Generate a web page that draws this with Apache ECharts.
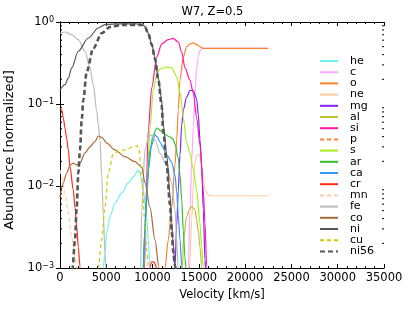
<!DOCTYPE html>
<html><head><meta charset="utf-8">
<script src="https://cdn.jsdelivr.net/npm/echarts@6/dist/echarts.min.js"></script>
<style>html,body{margin:0;padding:0;background:#fff}#c{width:415px;height:312px}</style>
</head><body><div id="c"></div>
<script>
const FONT = 'DejaVu Sans';
const names = ['he','c','o','ne','mg','al','si','p','s','ar','ca','cr','mn','fe','co','ni','cu','ni56'];
const xTicks = [0,5000,10000,15000,20000,25000,30000,35000];
const yTicks = [0.001,0.01,0.1,1];
const minorMult = [2,3,4,5,6,7,8,9];

const he = [[4590,5e-4],[4677,0.00104],[4860,0.0015],[5044,0.0027],[5400,0.0042],[5941,0.0062],[6665,0.0082],[7378,0.0109],[7918,0.013],[8458,0.0157],[8642,0.0144],[8998,0.0089],[9366,0.0042],[9538,0.0022],[9722,0.00104],[9830,3e-4]];
const c = [[13772,4e-4],[13859,0.001],[14043,0.0051],[14227,0.0207],[14400,0.0525],[14583,0.136],[14766,0.275],[14939,0.385],[15122,0.45],[15446,0.478],[22500,0.478]];
const o = [[11250,3e-4],[11342,0.001],[11698,0.0022],[12066,0.0055],[12422,0.018],[12607,0.0364],[12778,0.0845],[12962,0.196],[13319,0.374],[13686,0.50],[14043,0.54],[14400,0.555],[14766,0.53],[15122,0.50],[15446,0.478],[22500,0.478]];
const ne = [[13880,3e-4],[13990,0.001],[14227,0.0038],[14400,0.0103],[14583,0.0196],[14766,0.0232],[14939,0.0246],[15122,0.0226],[15307,0.017],[15479,0.0118],[15663,0.0089],[16020,0.0078],[16420,0.0076],[22500,0.0076]];
const mg = [[12314,2e-4],[12422,0.00105],[12607,0.0033],[12778,0.0089],[12962,0.0239],[13146,0.0555],[13319,0.0845],[13686,0.122],[14043,0.146],[14400,0.146],[14766,0.115],[14939,0.073],[15122,0.0364],[15307,0.018],[15479,0.0051],[15663,0.00125],[15717,0.001],[15830,3e-4]];
const al = [[13130,3e-4],[13240,0.001],[13319,0.0022],[13686,0.0042],[13934,0.0051],[14227,0.0056],[14400,0.0054],[14583,0.0051],[14766,0.0038],[14939,0.00275],[15122,0.0018],[15307,0.00105],[15390,3e-4]];
const si = [[9000,3e-4],[9128,0.001],[9290,0.0067],[9538,0.048],[9906,0.157],[10445,0.374],[10985,0.54],[11698,0.61],[12238,0.63],[12778,0.57],[13146,0.43],[13502,0.275],[14043,0.196],[14400,0.136],[14766,0.0675],[15122,0.0316],[15479,0.0089],[15663,0.0035],[15847,0.00105],[15930,3e-4]];
const p = [];
const s = [[8900,3e-4],[9020,0.001],[9366,0.0082],[9722,0.0525],[10078,0.148],[10445,0.232],[10802,0.267],[11526,0.283],[12066,0.275],[12607,0.216],[12962,0.14],[13319,0.0675],[13686,0.0334],[14043,0.0253],[14400,0.0157],[14766,0.0089],[15122,0.0035],[15307,0.0018],[15479,0.00105],[15600,3e-4]];
const ar = [[8850,3e-4],[8966,0.001],[9128,0.0025],[9366,0.0082],[9722,0.0275],[10078,0.042],[10445,0.051],[10802,0.048],[11158,0.044],[11882,0.0396],[12206,0.0375],[12422,0.0325],[12778,0.022],[12962,0.0136],[13146,0.0068],[13319,0.0029],[13502,0.00132],[13610,0.001],[13718,3e-4]];
const ca = [[8900,3e-4],[9020,0.001],[9182,0.0032],[9538,0.0157],[9906,0.0316],[10262,0.042],[10478,0.040],[10802,0.0344],[11158,0.029],[11526,0.0239],[12066,0.0196],[12422,0.0136],[12607,0.0085],[12778,0.0044],[12962,0.0022],[13146,0.00105],[13230,3e-4]];
const cr = [[0,0.088],[180,0.085],[356,0.0675],[540,0.051],[724,0.0374],[897,0.0275],[1080,0.0172],[1437,0.0089],[1620,0.0055],[1804,0.0032],[1977,0.0018],[2160,0.00105],[2270,3e-4],[9500,3e-4],[9668,0.001],[9906,0.00119],[10154,0.00118],[10445,0.001],[10586,3e-4]];
const mn = [[0,0.0157],[184,0.013],[540,0.0082],[897,0.0047],[1264,0.0024],[1620,0.00138],[1804,0.00104],[1944,3e-4]];
const fe = [[0,0.73],[540,0.755],[1264,0.70],[1977,0.61],[2700,0.44],[3240,0.275],[3600,0.172],[3964,0.082],[4137,0.056],[4320,0.036],[4505,0.0133],[4677,0.0046],[4860,0.0015],[4970,0.001],[5080,3e-4],[8530,3e-4],[8700,0.001],[8826,0.0051],[9182,0.0275],[9538,0.039],[9830,0.042],[10262,0.0364],[10802,0.025],[11526,0.018],[12066,0.0109],[12422,0.0051],[12640,0.0019],[12750,0.001],[12850,3e-4]];
const co = [[0,0.0073],[356,0.0109],[724,0.0144],[1080,0.018],[1437,0.019],[1804,0.018],[2160,0.019],[2700,0.0253],[3240,0.030],[3780,0.035],[4137,0.0407],[4537,0.039],[5044,0.0334],[5941,0.0275],[7021,0.0228],[8102,0.0198],[8826,0.017],[9182,0.0109],[9722,0.0055],[10262,0.0022],[10694,0.001],[10800,3e-4]];
const ni = [[0,0.148],[540,0.172],[897,0.207],[1264,0.275],[1977,0.44],[3060,0.638],[4137,0.845],[4860,0.93],[6480,0.95],[8826,0.946],[9182,0.88],[9538,0.73],[9906,0.54],[10262,0.364],[10618,0.207],[10985,0.112],[11158,0.0555],[11526,0.024],[11882,0.0078],[12066,0.0036],[12238,0.0019],[12422,0.001],[12600,3e-4]];
const cu = [[4050,3e-4],[4137,0.00104],[4505,0.0022],[4860,0.0056],[5217,0.0144],[5757,0.025],[6125,0.026],[7021,0.0275],[7885,0.030],[8318,0.031],[8534,0.0275],[8826,0.0125],[9182,0.0035],[9366,0.00166],[9560,0.001],[9722,3e-4]];
const ni56 = [[900,1e-4],[1350,0.001],[1620,0.0022],[1804,0.0055],[1977,0.0144],[2160,0.0275],[2344,0.064],[2520,0.112],[2880,0.246],[3600,0.48],[4505,0.73],[5400,0.87],[6665,0.92],[8826,0.92],[9182,0.87],[9538,0.72],[9906,0.53],[10262,0.355],[10618,0.2],[10985,0.095],[11158,0.0457],[11526,0.018],[11882,0.0059],[12066,0.0029],[12238,0.00156],[12422,0.00106],[12498,0.001],[12650,3e-4]];

const dataMap = {he,c,o,ne,mg,al,si,p,s,ar,ca,cr,mn,fe,co,ni,cu,ni56};
const colors = {he:'#6ef2f2',c:'#ffa8ff',o:'#ff8030',ne:'#ffcca0',mg:'#8020ff',al:'#c0c030',si:'#ff1aa0',p:'#ff8030',s:'#a8f020',ar:'#30c030',ca:'#3399ff',cr:'#ff2a1a',mn:'#ffcca0',fe:'#bbbbbb',co:'#a86a3a',ni:'#555555',cu:'#cccc00',ni56:'#555555'};
const dashed = {p:[4,3],mn:[4,3],cu:[4,3],ni56:[5,3]};

const minorVals = [];
[0.001,0.01,0.1].forEach(d => minorMult.forEach(m => minorVals.push([0, d*m])));

const chart = echarts.init(document.getElementById('c'), null, {renderer:'canvas'});
const series = names.map(n => ({
  name: n, type: 'line', data: dataMap[n], showSymbol: false, symbol: 'none',
  smooth: 0.3, smoothMonotone: 'x', clip: true,
  lineStyle: {color: colors[n], width: n==='ni56'?2.6:1.2, type: dashed[n] || 'solid'},
  itemStyle: {color: colors[n]}
}));
series.push({
  type: 'custom', name: '_minor', silent: true, clip: false, z: 10,
  data: minorVals,
  renderItem: (params, api) => {
    const v = api.value(1);
    const l = api.coord([0, v]);
    const r = api.coord([35000, v]);
    return {type:'group', children:[
      {type:'line', shape:{x1:l[0], y1:l[1], x2:l[0]+2, y2:l[1]}, style:{stroke:'#000', lineWidth:1}},
      {type:'line', shape:{x1:r[0], y1:r[1], x2:r[0]-2, y2:r[1]}, style:{stroke:'#000', lineWidth:1}}
    ]};
  }
});

const supLabel = v => {
  const e = Math.round(Math.log10(v));
  return '{b|10}{s|' + (e < 0 ? '\u2212' + (-e) : e) + '}';
};

chart.setOption({
  animation: false,
  title: {text: 'W7, Z=0.5', left: 207.5, top: 1, textAlign: 'center',
    textStyle: {fontFamily: FONT, fontSize: 11.5, fontWeight: 'normal', color: '#000'}},
  grid: {left: 60, right: 31, top: 22, bottom: 44, containLabel: false, outerBoundsMode: 'none'},
  legend: {
    data: names, orient: 'vertical', left: 319, top: 55.5, itemWidth: 18, itemHeight: 8, itemGap: 0.2,
    padding: 0,
    itemStyle: {opacity: 0, borderWidth: 0},
    textStyle: {fontFamily: FONT, fontSize: 11, lineHeight: 11, color: '#000', padding: [0,0,0,7]}
  },
  xAxis: [{
    type: 'value', min: 0, max: 35000, interval: 5000,
    name: 'Velocity [km/s]', nameLocation: 'middle', nameGap: 19,
    nameTextStyle: {fontFamily: FONT, fontSize: 11.5, color: '#000'},
    axisLine: {lineStyle: {color: '#000', width: 1}},
    axisTick: {inside: true, length: 4, lineStyle: {color: '#000'}},
    minorTick: {show: true, splitNumber: 5, length: 2, lineStyle: {color: '#000'}},
    axisLabel: {fontFamily: FONT, fontSize: 11.5, color: '#000', margin: 4, formatter: v => String(v)},
    splitLine: {show: false}
  }, {
    type: 'value', min: 0, max: 35000, interval: 5000, position: 'top',
    axisLine: {lineStyle: {color: '#000', width: 1}},
    axisTick: {inside: true, length: 4, lineStyle: {color: '#000'}},
    minorTick: {show: true, splitNumber: 5, length: 2, lineStyle: {color: '#000'}},
    axisLabel: {show: false}, splitLine: {show: false}
  }],
  yAxis: [{
    type: 'log', logBase: 10, min: 0.001, max: 1,
    name: 'Abundance [normalized]', nameLocation: 'middle', nameGap: 44,
    nameTextStyle: {fontFamily: FONT, fontSize: 13, color: '#000', padding: [0,10,0,0]},
    axisLine: {lineStyle: {color: '#000', width: 1}},
    axisTick: {inside: true, length: 4, lineStyle: {color: '#000'}},
    axisLabel: {formatter: supLabel, margin: 6,
      rich: {b: {fontFamily: FONT, fontSize: 11.5, color: '#000', lineHeight: 12, padding: [7,0,0,0], verticalAlign: 'bottom'},
             s: {fontFamily: FONT, fontSize: 8, color: '#000', lineHeight: 9, verticalAlign: 'top'}}},
    splitLine: {show: false}
  }, {
    type: 'log', logBase: 10, min: 0.001, max: 1, position: 'right',
    axisLine: {lineStyle: {color: '#000', width: 1}},
    axisTick: {inside: true, length: 4, lineStyle: {color: '#000'}},
    axisLabel: {show: false}, splitLine: {show: false}
  }],
  series: series
});
</script></body></html>
